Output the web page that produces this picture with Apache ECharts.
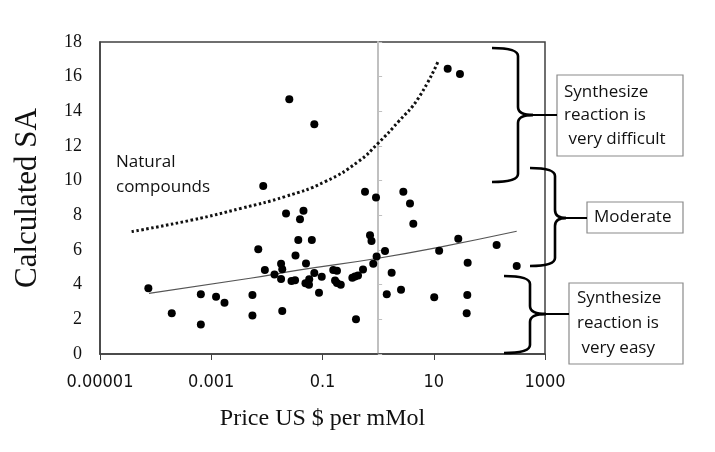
<!DOCTYPE html>
<html>
<head>
<meta charset="utf-8">
<script src="https://cdn.jsdelivr.net/npm/echarts@6/dist/echarts.min.js"></script>
<style>html,body{margin:0;padding:0;background:#fff}#c{width:715px;height:452px}</style>
</head>
<body>
<div id="c"></div>
<script>
// ---- data (price US$ per mMol, calculated SA) ----
const priceValues = [7.4e-5,1.95e-4,6.5e-4,6.5e-4,1.22e-3,1.73e-3,5.5e-3,5.5e-3,7.0e-3,8.6e-3,9.2e-3,0.0137,0.0180,0.0189,0.0180,0.0189,0.0221,0.0455,0.0394,0.0367,0.0643,0.0327,0.0505,0.0277,0.0321,0.0494,0.0577,0.0571,0.0713,0.0969,0.0865,0.156,0.182,0.168,0.182,0.213,0.344,0.384,0.435,0.535,0.40,0.581,0.916,0.715,0.76,0.94,0.818,1.33,1.75,1.43,2.58,2.84,3.74,4.29,10.2,12.5,27.6,40.7,40.1,39.1,135,310,0.0253,0.0713,17.8,29.6];
const saValues = [3.79,2.35,3.45,1.70,3.31,2.96,3.41,2.22,6.04,9.69,4.84,4.59,5.21,4.89,4.33,2.48,8.11,8.27,7.78,6.57,6.57,5.68,5.22,4.21,4.26,4.08,4.31,3.99,4.67,4.46,3.54,4.84,4.80,4.24,4.10,3.99,4.40,4.47,4.53,4.88,2.00,9.36,9.03,6.85,6.52,5.62,5.21,5.94,4.69,3.45,3.70,9.36,8.68,7.51,3.27,5.95,6.65,5.26,3.41,2.35,6.29,5.07,14.69,13.25,16.45,16.16];
const trendPrice = [7.6e-5,0.005,0.0394,0.94,12.9,310];
const trendSA = [3.50,4.37,4.85,5.51,6.17,7.08];
const naturalPrice = [3.7e-5,4.5e-4,3.5e-3,0.0212,0.111,0.44,1.0,2.31,5.27,12.1];
const naturalSA = [7.06,7.73,8.41,9.08,9.94,11.10,12.16,13.40,14.75,16.91];
const xTickLabels = ['0.00001','0.001','0.1','10','1000'];
const yTickLabels = ['0','2','4','6','8','10','12','14','16','18'];
const dividerPrice = 1;

const zip = (a,b) => a.map((v,i)=>[v,b[i]]);
const chart = echarts.init(document.getElementById('c'));

const bStyle = {stroke:'#000',lineWidth:2.6,fill:null};
function qb(x1,y1,cx,cy,x2,y2){return {type:'bezierCurve',shape:{x1,y1,x2,y2,cpx1:cx,cpy1:cy},style:bStyle,z:6};}
function ln(x1,y1,x2,y2,w){return {type:'line',shape:{x1,y1,x2,y2},style:{stroke:'#000',lineWidth:w||2.6},z:6};}
function brace(x0,xv,xt,y0,ym,y1,r){
  return [
    qb(x0,y0,xv,y0,xv,y0+r),
    ln(xv,y0+r,xv,ym-r),
    qb(xv,ym-r,xv,ym,xt,ym),
    qb(xt,ym,xv,ym,xv,ym+r),
    ln(xv,ym+r,xv,y1-r),
    qb(xv,y1-r,xv,y1,x0,y1)
  ];
}
const annFont = "17px 'Open Sans'";
function box(x,y,w,h){return {type:'rect',shape:{x:x,y:y,width:w,height:h},style:{fill:'#fff',stroke:'#8a8a8a',lineWidth:1.2},z:5};}

const graphics = [].concat(
  [{type:'text',x:116,y:150,style:{text:'Natural\ncompounds',font:annFont,lineHeight:25,fill:'#111'},z:10}],
  brace(492,518,533,48,115,182,8),
  [ln(533,115,557,115,2), box(557,75,126,81),
   {type:'text',x:564,y:80,style:{text:'Synthesize\nreaction is\n very difficult',font:annFont,lineHeight:23.5,fill:'#111'},z:10}],
  brace(530,555,566,168,218,266,8),
  [ln(566,218,587,218,2), box(587,202,96,31),
   {type:'text',x:594,y:206,style:{text:'Moderate',font:annFont,lineHeight:23,fill:'#111'},z:10}],
  brace(504,530,546,276,314,353,8),
  [ln(546,314,569,314,2), box(569,283,114,81),
   {type:'text',x:577,y:286,style:{text:'Synthesize\nreaction is\n very easy',font:annFont,lineHeight:25,fill:'#111'},z:10}]
);

const option = {
  animation:false,
  backgroundColor:'#fff',
  grid:{left:100,right:170,top:42,bottom:98,containLabel:false,outerBoundsMode:'none',
        show:true,borderColor:'#404040',borderWidth:1.5,backgroundColor:'transparent'},
  xAxis:{
    type:'log',logBase:10,min:1e-5,max:1000,interval:2,
    name:'Price US $ per mMol',nameLocation:'middle',nameGap:53,
    nameTextStyle:{fontFamily:'Liberation Serif',fontSize:24,color:'#111'},
    axisLine:{lineStyle:{color:'#404040',width:1.5}},
    axisTick:{show:true,length:6,lineStyle:{color:'#404040'}},
    splitLine:{show:false},minorTick:{show:false},
    axisLabel:{fontFamily:"'Liberation Sans Narrow','DejaVu Sans Condensed','Liberation Sans'",fontSize:18,color:'#111',margin:19,
      formatter:v=>{const l=xTickLabels.find(s=>Math.abs(Math.log10(parseFloat(s))-Math.log10(v))<0.01);return l||'';}}
  },
  yAxis:[{
    type:'value',min:0,max:18,interval:2,
    name:'Calculated SA',nameLocation:'middle',nameGap:57,nameRotate:90,
    nameTextStyle:{fontFamily:'Liberation Serif',fontSize:31,color:'#111'},
    axisLine:{show:true,lineStyle:{color:'#404040',width:1.5}},
    axisTick:{show:false},splitLine:{show:false},
    axisLabel:{fontFamily:'Liberation Serif',fontSize:18,color:'#111',margin:18,formatter:v=>yTickLabels[Math.round(v/2)]||''}
  },{
    type:'value',min:0,max:18,interval:2,position:'left',offset:-278,
    axisLine:{show:true,lineStyle:{color:'#c0c0c0',width:2}},
    axisTick:{show:true,inside:true,length:4,lineStyle:{color:'#c0c0c0',width:1}},
    axisLabel:{show:false},splitLine:{show:false}
  }],
  series:[
    {type:'line',data:zip(naturalPrice,naturalSA),smooth:true,symbol:'none',
     lineStyle:{color:'#111',width:3,type:[2.5,2.5]},z:3},
    {type:'line',data:zip(trendPrice,trendSA),smooth:true,symbol:'none',
     lineStyle:{color:'#555',width:1.2},z:3},
    {type:'scatter',data:zip(priceValues,saValues),symbol:'circle',symbolSize:8,
     itemStyle:{color:'#000',opacity:1},z:4}
  ],
  graphic:graphics
};
chart.setOption(option);
// place the divider axis at price = 1
const px = chart.convertToPixel({xAxisIndex:0}, dividerPrice);
const px0 = chart.convertToPixel({xAxisIndex:0}, 1e-5);
chart.setOption({yAxis:[{},{offset:-(px-px0)}]});
</script>
</body>
</html>
